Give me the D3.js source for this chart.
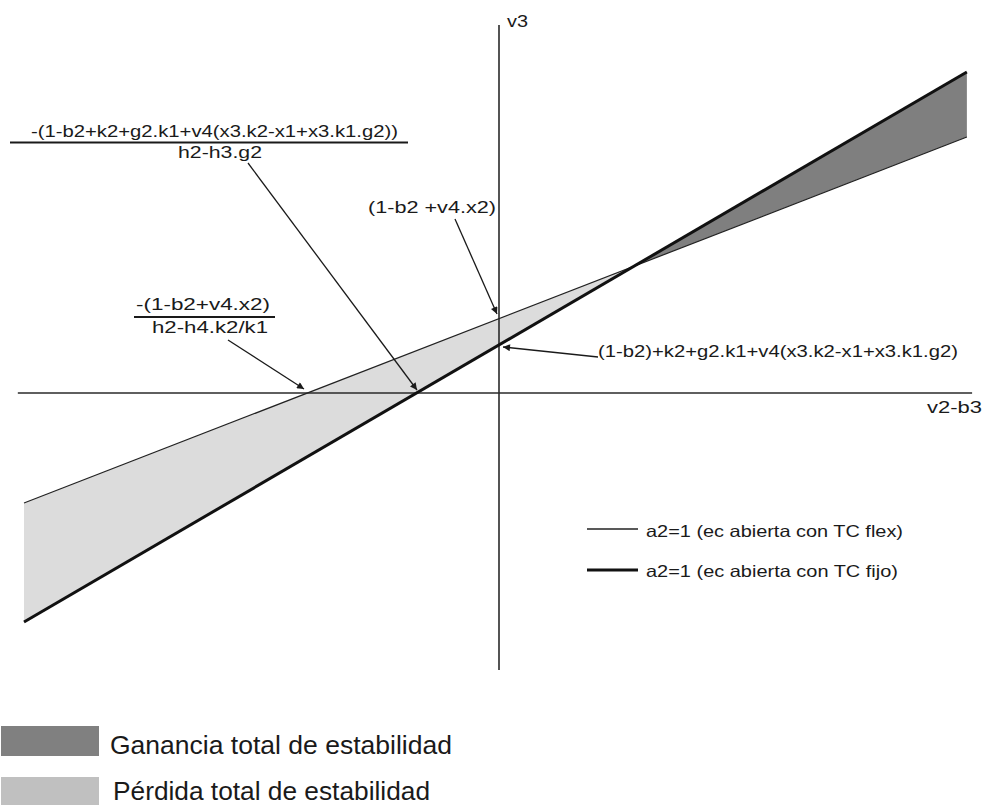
<!DOCTYPE html>
<html>
<head>
<meta charset="utf-8">
<script src="https://cdn.jsdelivr.net/npm/d3@7"></script>
<style>
body{margin:0;background:#fff;}
svg{display:block;}
text{font-family:"Liberation Sans", Arial, sans-serif; fill:#1a1a1a;}
</style>
</head>
<body>
<svg id="chart" width="984" height="805"></svg>
<script>
// ---- data (abstract units; origin = axis crossing) ----
const xValues   = [-10, 9.85];              // v2-b3 extent of both lines
const flexValues = [-2.316, 5.389];         // a2=1, TC flex (thin line)
const fijoValues = [-4.821, 6.758];         // a2=1, TC fijo (thick line)
const xAxisExtent = [-10.13, 9.96];
const yAxisExtent = [-5.83, 7.75];
const axisLabels = ["v2-b3", "v3"];
const seriesNames = ["a2=1 (ec abierta con TC flex)", "a2=1 (ec abierta con TC fijo)"];
const areaNames = ["Ganancia total de estabilidad", "Pérdida total de estabilidad"];
const areaColors = ["#7f7f7f", "#dcdcdc"];
const legendSwatchColors = ["#808080", "#c0c0c0"];

const svg = d3.select("#chart");
const x = d3.scaleLinear().domain([-10, 10]).range([24, 974]);
const y = d3.scaleLinear().domain([-10, 10]).range([868, -82]);

// crossing point of the two lines
const d0 = flexValues[0] - fijoValues[0], d1 = flexValues[1] - fijoValues[1];
const t = d0 / (d0 - d1);
const xc = xValues[0] + t * (xValues[1] - xValues[0]);
const yc = flexValues[0] + t * (flexValues[1] - flexValues[0]);

const area = d3.area().x(d => x(d.x)).y0(d => y(d.a)).y1(d => y(d.b));
// loss region (left of crossing)
svg.append("path")
  .datum([{x: xValues[0], a: flexValues[0], b: fijoValues[0]}, {x: xc, a: yc, b: yc}])
  .attr("d", area).attr("fill", areaColors[1]);
// gain region (right of crossing)
svg.append("path")
  .datum([{x: xc, a: yc, b: yc}, {x: xValues[1], a: flexValues[1], b: fijoValues[1]}])
  .attr("d", area).attr("fill", areaColors[0]);

// axes
svg.append("line").attr("x1", x(xAxisExtent[0])).attr("x2", x(xAxisExtent[1]))
  .attr("y1", y(0)).attr("y2", y(0)).attr("stroke", "#2a2a2a").attr("stroke-width", 1.6);
svg.append("line").attr("x1", x(0)).attr("x2", x(0))
  .attr("y1", y(yAxisExtent[0])).attr("y2", y(yAxisExtent[1])).attr("stroke", "#2a2a2a").attr("stroke-width", 1.6);

// lines
const line = d3.line().x(d => x(d[0])).y(d => y(d[1]));
svg.append("path").datum(xValues.map((v, i) => [v, flexValues[i]]))
  .attr("d", line).attr("fill", "none").attr("stroke", "#222").attr("stroke-width", 1.2);
svg.append("path").datum(xValues.map((v, i) => [v, fijoValues[i]]))
  .attr("d", line).attr("fill", "none").attr("stroke", "#111").attr("stroke-width", 3);

// helper text with fitted width
function txt(s, x0, base, size, width) {
  const tt = svg.append("text").attr("x", x0).attr("y", base).attr("font-size", size).text(s);
  if (width) tt.attr("textLength", width).attr("lengthAdjust", "spacingAndGlyphs");
  return tt;
}

// axis labels
txt(axisLabels[1], 507, 27, 16.5, 21);
txt(axisLabels[0], 927, 413, 16.5, 55);

// arrow marker
svg.append("defs").append("marker").attr("id", "ah")
  .attr("viewBox", "0 0 10 10").attr("refX", 10).attr("refY", 5)
  .attr("markerWidth", 9).attr("markerHeight", 7).attr("markerUnits", "userSpaceOnUse")
  .attr("orient", "auto")
  .append("path").attr("d", "M0,0 L10,5 L0,10 Z").attr("fill", "#1a1a1a");

function arrow(x1, y1, x2, y2) {
  svg.append("line").attr("x1", x1).attr("y1", y1).attr("x2", x2).attr("y2", y2)
    .attr("stroke", "#1a1a1a").attr("stroke-width", 1.3).attr("marker-end", "url(#ah)");
}

// annotation 1: fraction
txt("-(1-b2+k2+g2.k1+v4(x3.k2-x1+x3.k1.g2))", 31, 137, 16.5, 367);
svg.append("line").attr("x1", 10).attr("x2", 408).attr("y1", 142.5).attr("y2", 142.5)
  .attr("stroke", "#1a1a1a").attr("stroke-width", 1.8);
txt("h2-h3.g2", 178, 158, 16.5, 84);
arrow(248, 163, 417, 390);

// annotation 2: fraction
txt("-(1-b2+v4.x2)", 136, 310, 16.5, 134);
svg.append("line").attr("x1", 134).attr("x2", 275).attr("y1", 317).attr("y2", 317)
  .attr("stroke", "#1a1a1a").attr("stroke-width", 1.8);
txt("h2-h4.k2/k1", 152, 333, 16.5, 116);
arrow(228, 340, 304, 389);

// annotation 3
txt("(1-b2 +v4.x2)", 368, 213, 16.5, 128);
arrow(455, 219, 497, 314);

// annotation 4
txt("(1-b2)+k2+g2.k1+v4(x3.k2-x1+x3.k1.g2)", 598, 357, 16.5, 360);
arrow(598, 357, 503, 347);

// line legend
svg.append("line").attr("x1", 587).attr("x2", 638).attr("y1", 529).attr("y2", 529)
  .attr("stroke", "#222").attr("stroke-width", 1.3);
txt(seriesNames[0], 646, 537, 16.5, 257);
svg.append("line").attr("x1", 587).attr("x2", 638).attr("y1", 570).attr("y2", 570)
  .attr("stroke", "#111").attr("stroke-width", 3.2);
txt(seriesNames[1], 646, 577, 16.5, 252);

// area legend
svg.append("rect").attr("x", 1).attr("y", 726).attr("width", 98).attr("height", 30).attr("fill", legendSwatchColors[0]);
txt(areaNames[0], 110, 753.5, 26, 342);
svg.append("rect").attr("x", 1).attr("y", 777).attr("width", 98).attr("height", 30).attr("fill", legendSwatchColors[1]);
txt(areaNames[1], 113, 800, 26, 317);
</script>
</body>
</html>
